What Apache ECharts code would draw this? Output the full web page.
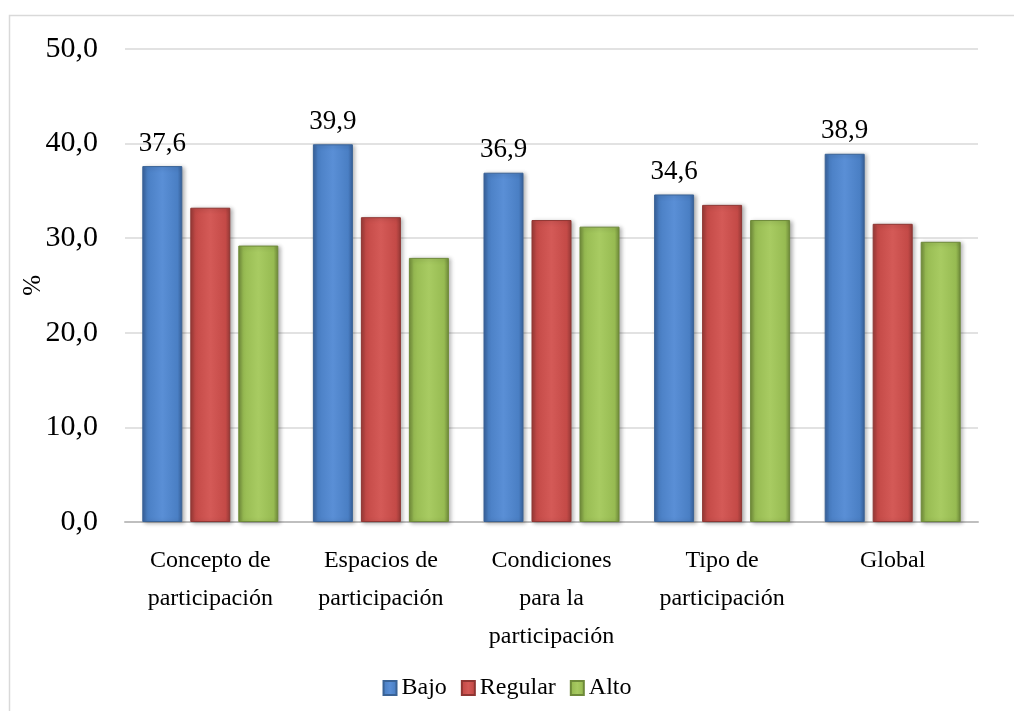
<!DOCTYPE html>
<html>
<head>
<meta charset="utf-8">
<script src="https://cdn.jsdelivr.net/npm/echarts@6/dist/echarts.min.js"></script>
<style>
html,body{margin:0;padding:0;background:#fff;}
#c{width:1014px;height:711px;}
</style>
</head>
<body>
<div id="c"></div>
<script>
const categories = ["Concepto de\nparticipación", "Espacios de\nparticipación", "Condiciones\npara la\nparticipación", "Tipo de\nparticipación", "Global"];
const seriesNames = ["Bajo", "Regular", "Alto"];
const bajo = [37.6, 39.9, 36.9, 34.6, 38.9];
const regular = [33.2, 32.2, 31.9, 33.5, 31.5];
const alto = [29.2, 27.9, 31.2, 31.9, 29.6];
const yTicks = [0, 10, 20, 30, 40, 50];

const FONT = "'Liberation Serif', 'Times New Roman', serif";
function grad(dark, mid, light) {
  return new echarts.graphic.LinearGradient(0, 0, 1, 0, [
    {offset: 0, color: dark},
    {offset: 0.12, color: mid},
    {offset: 0.5, color: light},
    {offset: 0.88, color: mid},
    {offset: 1, color: dark}
  ]);
}
const styles = [
  {fill: grad('#37609a', '#4a7fc4', '#5a8fd6'), border: '#3a6396'},
  {fill: grad('#973a37', '#c44a47', '#d45a57'), border: '#8f3633'},
  {fill: grad('#6f8a3a', '#97bb52', '#a8cb62'), border: '#6e8a3a'}
];
const fmt = v => Number(v).toFixed(1).replace('.', ',');

const data = [bajo, regular, alto];
const series = seriesNames.map((name, i) => ({
  name: name,
  type: 'bar',
  data: data[i],
  barWidth: 40,
  barGap: '20%',
  itemStyle: {
    color: styles[i].fill,
    borderColor: styles[i].border,
    borderWidth: 1,
    shadowColor: 'rgba(0,0,0,0.3)',
    shadowBlur: 4,
    shadowOffsetX: 2,
    shadowOffsetY: 1
  },
  label: i === 0 ? {
    show: true,
    position: 'top',
    distance: 9,
    formatter: p => fmt(p.value),
    fontFamily: FONT,
    fontSize: 27,
    color: '#000'
  } : {show: false}
}));

const chart = echarts.init(document.getElementById('c'));
chart.setOption({
  backgroundColor: '#fff',
  animation: false,
  graphic: [{
    type: 'rect',
    left: 7, top: 13,
    shape: {width: 1020, height: 720},
    style: {fill: 'none', stroke: '#d9d9d9', lineWidth: 1.5},
    z: -10
  }],
  grid: {left: 125, right: 36, top: 48.7, bottom: 189, containLabel: false},
  legend: {
    data: seriesNames,
    bottom: 6,
    left: 'center',
    icon: 'rect',
    itemWidth: 13,
    itemHeight: 14,
    itemGap: 14,
    textStyle: {fontFamily: FONT, fontSize: 24, color: '#000'}
  },
  xAxis: {
    type: 'category',
    data: categories,
    axisLine: {lineStyle: {color: '#bfbfbf', width: 2}},
    axisTick: {show: false},
    axisLabel: {
      interval: 0,
      margin: 20,
      fontFamily: FONT,
      fontSize: 24,
      lineHeight: 38,
      color: '#000'
    }
  },
  yAxis: {
    type: 'value',
    min: yTicks[0],
    max: yTicks[yTicks.length - 1],
    interval: 10,
    name: '%',
    nameLocation: 'middle',
    nameRotate: 90,
    nameGap: 79,
    nameMoveOverlap: false,
    nameTextStyle: {fontFamily: FONT, fontSize: 25, color: '#000'},
    axisLine: {show: false},
    axisTick: {show: false},
    splitLine: {lineStyle: {color: '#d9d9d9', width: 1.5}},
    axisLabel: {
      margin: 27,
      formatter: v => fmt(v),
      fontFamily: FONT,
      fontSize: 30,
      color: '#000'
    }
  },
  series: series
});
</script>
</body>
</html>
